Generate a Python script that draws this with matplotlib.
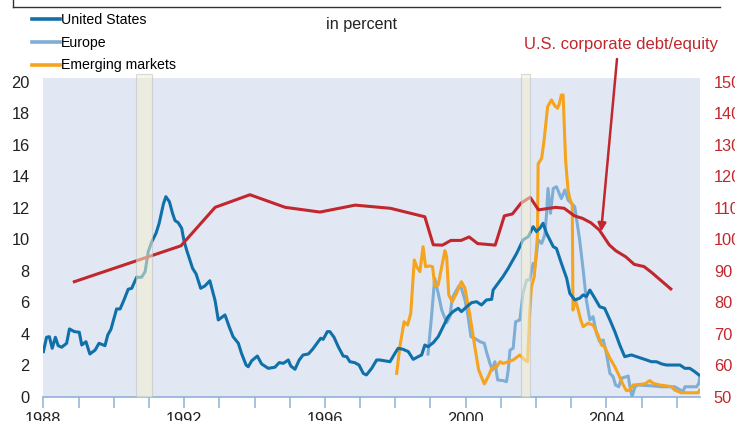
import matplotlib
matplotlib.use("Agg")
import matplotlib.pyplot as plt
from matplotlib.lines import Line2D

plt.rcParams['font.family'] = ['Liberation Sans', 'DejaVu Sans']

# high-yield spreads, in percent
us_years = [1988.00, 1988.09, 1988.17, 1988.25, 1988.34, 1988.42, 1988.52, 1988.66, 1988.74, 1988.88,
            1989.02, 1989.09, 1989.21, 1989.32, 1989.47, 1989.58, 1989.75, 1989.83, 1989.92, 1990.08,
            1990.18, 1990.29, 1990.41, 1990.51, 1990.65, 1990.79, 1990.89, 1990.98, 1991.08, 1991.20,
            1991.29, 1991.41, 1991.48, 1991.58, 1991.67, 1991.74, 1991.83, 1991.93, 1991.99, 1992.07,
            1992.24, 1992.34, 1992.47, 1992.59, 1992.73, 1992.88, 1992.97, 1993.07, 1993.16, 1993.28,
            1993.39, 1993.54, 1993.63, 1993.76, 1993.82, 1993.92, 1994.08, 1994.20, 1994.39, 1994.58,
            1994.70, 1994.82, 1994.96, 1995.03, 1995.15, 1995.27, 1995.38, 1995.53, 1995.65, 1995.76,
            1995.88, 1995.95, 1996.07, 1996.14, 1996.26, 1996.38, 1996.52, 1996.62, 1996.71, 1996.85,
            1996.97, 1997.09, 1997.18, 1997.33, 1997.47, 1997.56, 1997.85, 1997.99, 1998.08, 1998.22,
            1998.37, 1998.51, 1998.65, 1998.75, 1998.84, 1998.93, 1999.08, 1999.22, 1999.36, 1999.50,
            1999.64, 1999.79, 1999.88, 2000.03, 2000.17, 2000.31, 2000.45, 2000.59, 2000.74, 2000.78,
            2000.92, 2001.06, 2001.21, 2001.30, 2001.45, 2001.54, 2001.63, 2001.78, 2001.92, 2002.01,
            2002.11, 2002.20, 2002.30, 2002.49, 2002.58, 2002.72, 2002.87, 2002.96, 2003.10, 2003.24,
            2003.34, 2003.43, 2003.53, 2003.67, 2003.81, 2003.95, 2004.10, 2004.24, 2004.38, 2004.52,
            2004.71, 2004.86, 2005.00, 2005.14, 2005.28, 2005.42, 2005.57, 2005.71, 2005.89, 2006.09,
            2006.23, 2006.37, 2006.51, 2006.63]
us_vals = [2.88, 3.79, 3.83, 3.09, 3.79, 3.26, 3.16, 3.41, 4.32, 4.15,
           4.11, 3.30, 3.51, 2.73, 2.98, 3.41, 3.26, 3.94, 4.30, 5.59,
           5.59, 6.16, 6.84, 6.90, 7.60, 7.60, 7.96, 9.23, 9.86, 10.39,
           11.03, 12.25, 12.72, 12.40, 11.66, 11.20, 11.07, 10.71, 9.97, 9.33,
           8.17, 7.81, 6.90, 7.05, 7.38, 6.11, 4.89, 5.06, 5.21, 4.46,
           3.83, 3.41, 2.77, 2.03, 1.92, 2.30, 2.60, 2.10, 1.82, 1.89,
           2.18, 2.14, 2.35, 1.97, 1.76, 2.35, 2.67, 2.73, 3.03, 3.37,
           3.73, 3.66, 4.15, 4.15, 3.79, 3.19, 2.60, 2.56, 2.24, 2.18,
           2.03, 1.50, 1.40, 1.82, 2.35, 2.35, 2.24, 2.77, 3.09, 3.03,
           2.88, 2.39, 2.56, 2.67, 3.30, 3.19, 3.45, 3.83, 4.46, 5.10,
           5.42, 5.63, 5.42, 5.73, 5.99, 6.05, 5.84, 6.16, 6.20, 6.79,
           7.22, 7.64, 8.17, 8.53, 9.12, 9.54, 9.97, 10.18, 10.81, 10.50,
           10.71, 11.03, 10.39, 9.54, 9.43, 8.49, 7.54, 6.58, 6.16, 6.27,
           6.48, 6.37, 6.79, 6.27, 5.73, 5.63, 4.89, 4.15, 3.30, 2.56,
           2.67, 2.56, 2.46, 2.35, 2.24, 2.24, 2.10, 2.03, 2.03, 2.03,
           1.82, 1.82, 1.61, 1.40]

eu_years = [1998.93, 1999.03, 1999.12, 1999.22, 1999.32, 1999.46, 1999.55, 1999.62, 1999.69, 1999.81,
            1999.88, 1999.98, 2000.07, 2000.15, 2000.26, 2000.41, 2000.53, 2000.59, 2000.69, 2000.76,
            2000.83, 2000.91, 2001.07, 2001.16, 2001.21, 2001.26, 2001.35, 2001.42, 2001.54, 2001.63,
            2001.73, 2001.82, 2001.92, 2001.97, 2002.06, 2002.16, 2002.25, 2002.30, 2002.34, 2002.41,
            2002.49, 2002.58, 2002.72, 2002.82, 2002.91, 2003.01, 2003.10, 2003.24, 2003.34, 2003.43,
            2003.53, 2003.62, 2003.72, 2003.81, 2003.91, 2004.00, 2004.10, 2004.19, 2004.26, 2004.35,
            2004.43, 2004.62, 2004.66, 2004.73, 2004.81, 2004.90, 2005.33, 2005.57, 2005.94, 2006.18,
            2006.23, 2006.56, 2006.63, 2006.65]
eu_vals = [2.73, 5.10, 7.54, 6.58, 5.52, 4.72, 5.10, 6.27, 6.58, 7.05,
           6.90, 6.16, 5.10, 3.83, 3.72, 3.51, 3.41, 2.88, 2.13, 1.71,
           2.24, 1.08, 1.04, 0.97, 1.71, 2.98, 3.09, 4.78, 4.89, 6.58,
           7.43, 7.43, 8.49, 8.27, 9.97, 9.75, 10.29, 11.66, 13.24, 11.66,
           13.24, 13.35, 12.60, 13.14, 12.51, 12.29, 12.08, 9.97, 8.06, 6.16,
           4.89, 5.10, 4.04, 3.51, 3.62, 2.77, 1.50, 1.29, 0.76, 0.65,
           1.19, 1.33, 0.76, 0.02, 0.65, 0.76, 0.70, 0.65, 0.65, 0.34,
           0.65, 0.65, 0.87, 1.29]

em_years = [1998.04, 1998.13, 1998.25, 1998.35, 1998.44, 1998.54, 1998.61, 1998.70, 1998.79, 1998.86,
            1998.98, 1999.06, 1999.12, 1999.22, 1999.32, 1999.41, 1999.46, 1999.52, 1999.62, 1999.74,
            1999.88, 1999.98, 2000.12, 2000.26, 2000.37, 2000.53, 2000.64, 2000.74, 2000.88, 2000.98,
            2001.07, 2001.21, 2001.35, 2001.54, 2001.68, 2001.76, 2001.82, 2001.87, 2001.95, 2002.04,
            2002.06, 2002.16, 2002.23, 2002.33, 2002.44, 2002.53, 2002.61, 2002.66, 2002.72, 2002.77,
            2002.84, 2002.91, 2002.96, 2003.03, 2003.05, 2003.12, 2003.20, 2003.27, 2003.34, 2003.48,
            2003.62, 2003.76, 2003.86, 2003.95, 2004.10, 2004.24, 2004.33, 2004.48, 2004.57, 2004.66,
            2004.76, 2005.09, 2005.23, 2005.33, 2005.52, 2005.71, 2005.85, 2005.94, 2006.13, 2006.61,
            2006.65]
em_vals = [1.50, 3.19, 4.78, 4.57, 5.31, 8.70, 8.27, 7.96, 9.54, 8.27,
           8.32, 8.27, 7.05, 7.11, 8.27, 9.29, 8.91, 6.48, 6.05, 6.58,
           7.32, 6.90, 5.21, 3.19, 1.71, 0.83, 1.29, 1.82, 1.92, 2.24,
           2.13, 2.24, 2.35, 2.67, 2.35, 2.24, 5.31, 7.00, 7.64, 10.18,
           14.80, 15.15, 16.32, 18.43, 18.86, 18.50, 18.33, 18.60, 19.17, 19.17,
           15.05, 13.14, 12.60, 12.19, 5.52, 6.16, 5.52, 4.89, 4.46, 4.68,
           4.57, 3.94, 3.30, 3.19, 2.46, 1.92, 1.50, 0.76, 0.40, 0.44,
           0.76, 0.83, 1.04, 0.87, 0.76, 0.70, 0.65, 0.44, 0.27, 0.27,
           0.44]

# U.S. corporate debt/equity, right axis
de_years = [1988.88, 1991.91, 1992.88, 1993.87, 1994.87, 1995.86, 1996.86, 1997.86, 1998.84, 1999.08,
            1999.34, 1999.58, 1999.87, 2000.10, 2000.34, 2000.84, 2001.10, 2001.33, 2001.57, 2001.83,
            2002.07, 2002.56, 2002.80, 2003.09, 2003.32, 2003.56, 2003.80, 2004.08, 2004.27, 2004.55,
            2004.79, 2005.07, 2005.31, 2005.59, 2005.83]
de_vals = [86.6, 98.0, 110.2, 114.2, 110.2, 108.7, 110.9, 109.9, 107.2, 98.3,
           98.2, 99.7, 99.7, 100.8, 98.7, 98.2, 107.5, 108.1, 111.5, 113.4,
           109.4, 110.2, 109.9, 107.5, 106.7, 105.3, 103.0, 98.3, 96.4, 94.5,
           92.1, 91.4, 89.3, 86.6, 84.3]

recessions = [(1990.63, 1991.09), (2001.57, 2001.82)]

c_us = '#1070AA'
c_eu = '#7EAED6'
c_em = '#F6A31D'
c_red = '#C1272D'

fig = plt.figure(figsize=(7.35, 4.21), dpi=100)
W, H = 735, 421
ax = fig.add_axes([43.4 / W, 1 - 397 / H, (700 - 43.4) / W, (397 - 78) / H])
ax.set_facecolor('#E1E8F3')
ymax = 20.25
ax.set_xlim(1988, 2006.66)
ax.set_ylim(0, ymax)

ax.plot(us_years, us_vals, color=c_us, lw=2.2, zorder=4)
ax.plot(eu_years, eu_vals, color=c_eu, lw=2.2, zorder=3)
ax.plot(em_years, em_vals, color=c_em, lw=2.2, zorder=3.5)

for s in ['top', 'right', 'left']:
    ax.spines[s].set_visible(False)
ax.spines['bottom'].set_color('#8DB1DA')
ax.spines['bottom'].set_linewidth(1.2)

ax.set_yticks(range(0, 21, 2))
ax.tick_params(axis='y', length=0, pad=10, labelsize=11.8, labelcolor='#222222')
years = list(range(1988, 2007))
ax.set_xticks(years)
ax.set_xticklabels([str(y) if y % 4 == 0 else '' for y in years])
ax.tick_params(axis='x', length=8, width=1.1, color='#8DB1DA', pad=3, labelsize=11.8,
               labelcolor='#222222')

ax2 = ax.twinx()
ax2.set_ylim(50, 50 + 5 * ymax)
ax2.plot(de_years, de_vals, color=c_red, lw=2.2, zorder=2)
ax2.set_yticks(range(50, 151, 10))
ax2.tick_params(axis='y', length=0, pad=10, labelsize=11.8, labelcolor=c_red)
for s in ax2.spines.values():
    s.set_visible(False)

for x0, x1 in recessions:
    ax2.axvspan(x0, x1, ymin=0, ymax=1.012, facecolor='#F4F1CF', alpha=0.55,
                edgecolor='#B9BEC2', lw=0.8, zorder=5, clip_on=False)

# legend
handles = [Line2D([], [], color=c_us, lw=2.6),
           Line2D([], [], color=c_eu, lw=2.6),
           Line2D([], [], color=c_em, lw=2.6)]
fig.legend(handles, ['United States', 'Europe', 'Emerging markets'],
           loc='upper left', bbox_to_anchor=(22 / W, 1 - 3 / H), frameon=False,
           fontsize=10.2, handlelength=1.95, handletextpad=0.12, labelspacing=0.62,
           borderpad=0.2)

fig.text(361 / W, 1 - 25 / H, 'in percent', ha='center', va='center', fontsize=11.6,
         color='#222222')
fig.text(621 / W, 1 - 45 / H, 'U.S. corporate debt/equity', ha='center', va='center',
         fontsize=12, color=c_red)
ax2.annotate('', xy=(2003.85, 102.5), xycoords='data',
             xytext=(617 / W, 1 - 59 / H), textcoords='figure fraction',
             arrowprops=dict(arrowstyle='-|>', color=c_red, lw=1.8, mutation_scale=12,
                             shrinkA=0, shrinkB=0))

# frame line at the top
fig.add_artist(Line2D([13 / W, 720 / W], [1 - 7 / H, 1 - 7 / H], color='#333333', lw=1))
fig.add_artist(Line2D([13 / W, 13 / W], [1, 1 - 7 / H], color='#333333', lw=1))

fig.savefig('out.png', dpi=100)
